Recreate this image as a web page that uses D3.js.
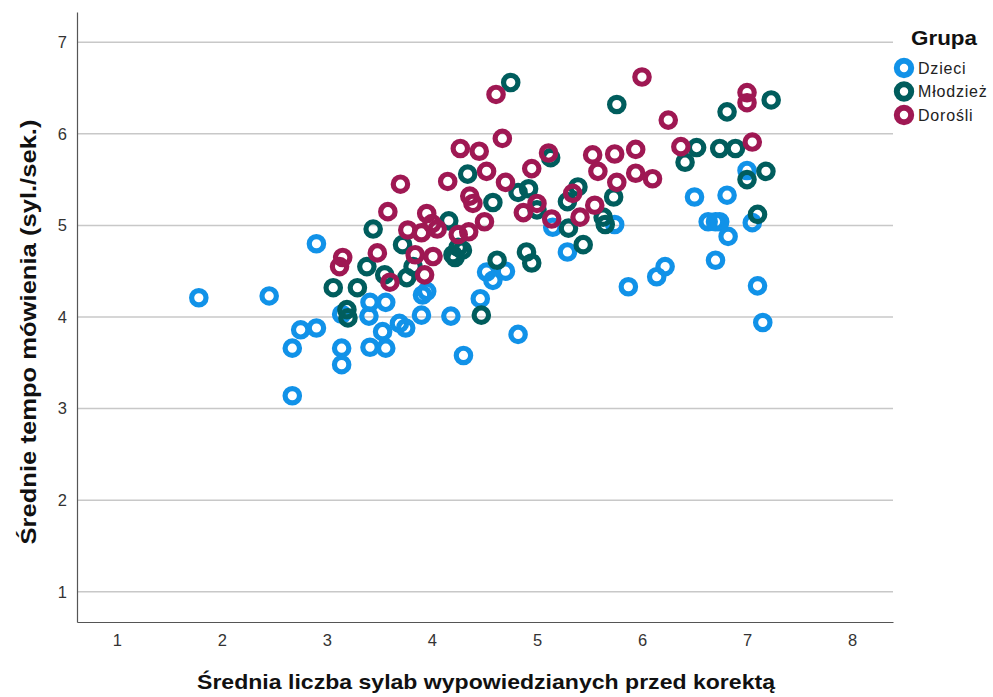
<!DOCTYPE html>
<html>
<head>
<meta charset="utf-8">
<script src="https://cdn.jsdelivr.net/npm/d3@7"></script>
<style>
  body { margin: 0; background: #fff; }
  text { font-family: "Liberation Sans", Arial, sans-serif; }
</style>
</head>
<body>
<div id="chart"></div>
<script>
// group names and colours
const groups = ["Dzieci", "Młodzież", "Dorośli"]
const colors = ["#1192e8", "#005d5d", "#9f1853"]

const xTicks = [1, 2, 3, 4, 5, 6, 7, 8]
const yTicks = [1, 2, 3, 4, 5, 6, 7]

// Dzieci
const dzieciX = [1.78, 2.45, 2.90, 2.75, 2.90, 2.67, 2.67, 3.14, 3.14, 3.14, 3.41, 3.40, 3.56, 3.53, 3.41, 3.56,
    3.69, 3.75, 3.90, 3.91, 3.95, 4.18, 4.30, 4.46, 4.52, 4.58, 4.70, 4.82, 5.15, 5.29, 5.74, 5.87, 6.14, 6.22,
    6.50, 6.81, 6.63, 6.70, 6.74, 6.82, 6.70, 7.05, 7.00, 7.10, 7.15]
const dzieciY = [4.21, 4.23, 4.80, 3.86, 3.88, 3.66, 3.14, 3.66, 3.48, 4.03, 4.16, 4.01, 4.16, 3.84, 3.67, 3.66,
    3.93, 3.88, 4.02, 4.24, 4.28, 4.01, 3.58, 4.20, 4.49, 4.40, 4.50, 3.81, 4.98, 4.71, 5.01, 4.33, 4.44, 4.55,
    5.31, 5.33, 5.04, 5.04, 5.04, 4.88, 4.62, 5.03, 5.60, 4.34, 3.94]

// Młodzież
const mlodziezX = [3.06, 3.29, 3.19, 3.20, 3.38, 3.44, 3.55, 3.72, 3.76, 3.82, 4.16, 4.20, 4.25, 4.29, 4.22,
    4.34, 4.58, 4.75, 4.62, 4.47, 4.90, 4.95, 4.82, 4.92, 5.00, 5.13, 5.30, 5.29, 5.39, 5.44, 5.63, 5.65, 5.73,
    5.76, 6.41, 6.52, 6.74, 6.89, 6.81, 7.00, 7.18, 7.23, 7.10]
const mlodziezY = [4.32, 4.32, 4.08, 3.99, 4.55, 4.96, 4.46, 4.79, 4.43, 4.55, 5.05, 4.68, 4.76, 4.73, 4.65,
    5.56, 5.25, 6.56, 4.62, 4.02, 4.71, 4.59, 5.36, 5.40, 5.17, 5.74, 4.97, 5.26, 5.42, 4.79, 5.09, 5.01, 5.31,
    6.32, 5.69, 5.85, 5.84, 5.84, 6.24, 5.50, 5.59, 6.37, 5.12]

// Dorośli
const dorosliX = [3.12, 3.15, 3.48, 3.58, 3.70, 3.60, 3.77, 3.84, 3.93, 3.95, 4.00, 4.05, 4.01, 4.15, 4.25,
    4.35, 4.27, 4.45, 4.36, 4.39, 4.50, 4.52, 4.67, 4.61, 4.70, 4.87, 5.00, 4.95, 5.11, 5.14, 5.34, 5.41, 5.55,
    5.53, 5.74, 5.94, 5.58, 5.76, 5.94, 6.10, 6.00, 6.25, 6.37, 7.00, 7.00, 7.05, 3.90]
const dorosliY = [4.55, 4.65, 4.70, 5.15, 5.45, 4.38, 4.95, 4.68, 4.46, 5.13, 5.02, 4.96, 4.66, 5.48, 4.90,
    4.93, 5.84, 5.81, 5.32, 5.24, 5.04, 5.59, 5.95, 6.43, 5.47, 5.14, 5.24, 5.62, 5.79, 5.07, 5.35, 5.09, 5.22,
    5.77, 5.78, 5.83, 5.59, 5.47, 5.57, 5.51, 6.62, 6.15, 5.86, 6.45, 6.34, 5.91, 4.92]

const seriesX = [dzieciX, mlodziezX, dorosliX]
const seriesY = [dzieciY, mlodziezY, dorosliY]

const W = 993, H = 697
const margin = {top: 12, right: 100, bottom: 75, left: 77}
const width = W - margin.left - margin.right
const height = H - margin.top - margin.bottom

const svg = d3.select("#chart")
    .append("svg")
    .attr("width", W)
    .attr("height", H)

const g = svg.append("g")
    .attr("transform", `translate(${margin.left},${margin.top})`)

const x = d3.scaleLinear().domain([0.62, 8.39]).range([0, width])
const y = d3.scaleLinear().domain([0.67, 7.33]).range([height, 0])

// grey gridlines
g.append("g")
    .selectAll("line")
    .data(yTicks)
    .join("line")
    .attr("x1", 0)
    .attr("x2", width)
    .attr("y1", d => y(d))
    .attr("y2", d => y(d))
    .attr("stroke", "#c8c8c8")
    .attr("stroke-width", 1.5)

// x axis
const xAxis = g.append("g")
    .attr("transform", `translate(0,${height})`)
    .call(d3.axisBottom(x).tickValues(xTicks).tickSize(0).tickPadding(12).tickFormat(d3.format("d")))
xAxis.select(".domain").attr("stroke", "#555").attr("stroke-width", 1.2)
xAxis.selectAll("text").attr("font-size", 16.5).attr("fill", "#333")
    .attr("font-family", "Liberation Sans, Arial, sans-serif")

// y axis
const yAxis = g.append("g")
    .call(d3.axisLeft(y).tickValues(yTicks).tickSize(0).tickPadding(10).tickFormat(d3.format("d")))
yAxis.select(".domain").attr("stroke", "#555").attr("stroke-width", 1.2)
yAxis.selectAll("text").attr("font-size", 16.5).attr("fill", "#333")
    .attr("font-family", "Liberation Sans, Arial, sans-serif")

// points
groups.forEach((name, i) => {
    const pts = seriesX[i].map((v, j) => ({x: v, y: seriesY[i][j]}))
    g.append("g")
        .selectAll("circle")
        .data(pts)
        .join("circle")
        .attr("cx", d => x(d.x))
        .attr("cy", d => y(d.y))
        .attr("r", 7.2)
        .attr("fill", "none")
        .attr("stroke", colors[i])
        .attr("stroke-width", 5.2)
})

// axis titles
svg.append("text")
    .attr("text-anchor", "middle")
    .attr("x", 486)
    .attr("y", 689)
    .attr("font-size", 21)
    .attr("font-weight", "bold")
    .attr("fill", "#111")
    .attr("textLength", 578)
    .attr("lengthAdjust", "spacingAndGlyphs")
    .text("Średnia liczba sylab wypowiedzianych przed korektą")

svg.append("text")
    .attr("text-anchor", "middle")
    .attr("transform", "rotate(-90)")
    .attr("x", -332)
    .attr("y", 36)
    .attr("font-size", 22)
    .attr("font-weight", "bold")
    .attr("fill", "#111")
    .attr("textLength", 425)
    .attr("lengthAdjust", "spacingAndGlyphs")
    .text("Średnie tempo mówienia (syl./sek.)")

// legend
svg.append("text")
    .attr("x", 911)
    .attr("y", 45)
    .attr("font-size", 20)
    .attr("font-weight", "bold")
    .attr("fill", "#111")
    .attr("textLength", 66)
    .attr("lengthAdjust", "spacingAndGlyphs")
    .text("Grupa")

const legend = svg.append("g")
legend.selectAll("circle")
    .data(groups)
    .join("circle")
    .attr("cx", 904)
    .attr("cy", (d, i) => 68 + i * 23.5)
    .attr("r", 7.2)
    .attr("fill", "none")
    .attr("stroke", (d, i) => colors[i])
    .attr("stroke-width", 6)

legend.selectAll("text")
    .data(groups)
    .join("text")
    .attr("x", 918)
    .attr("y", (d, i) => 68 + i * 23.5)
    .attr("dy", "0.35em")
    .attr("font-size", 16)
    .attr("letter-spacing", 0.8)
    .attr("fill", "#222")
    .text(d => d)
</script>
</body>
</html>
